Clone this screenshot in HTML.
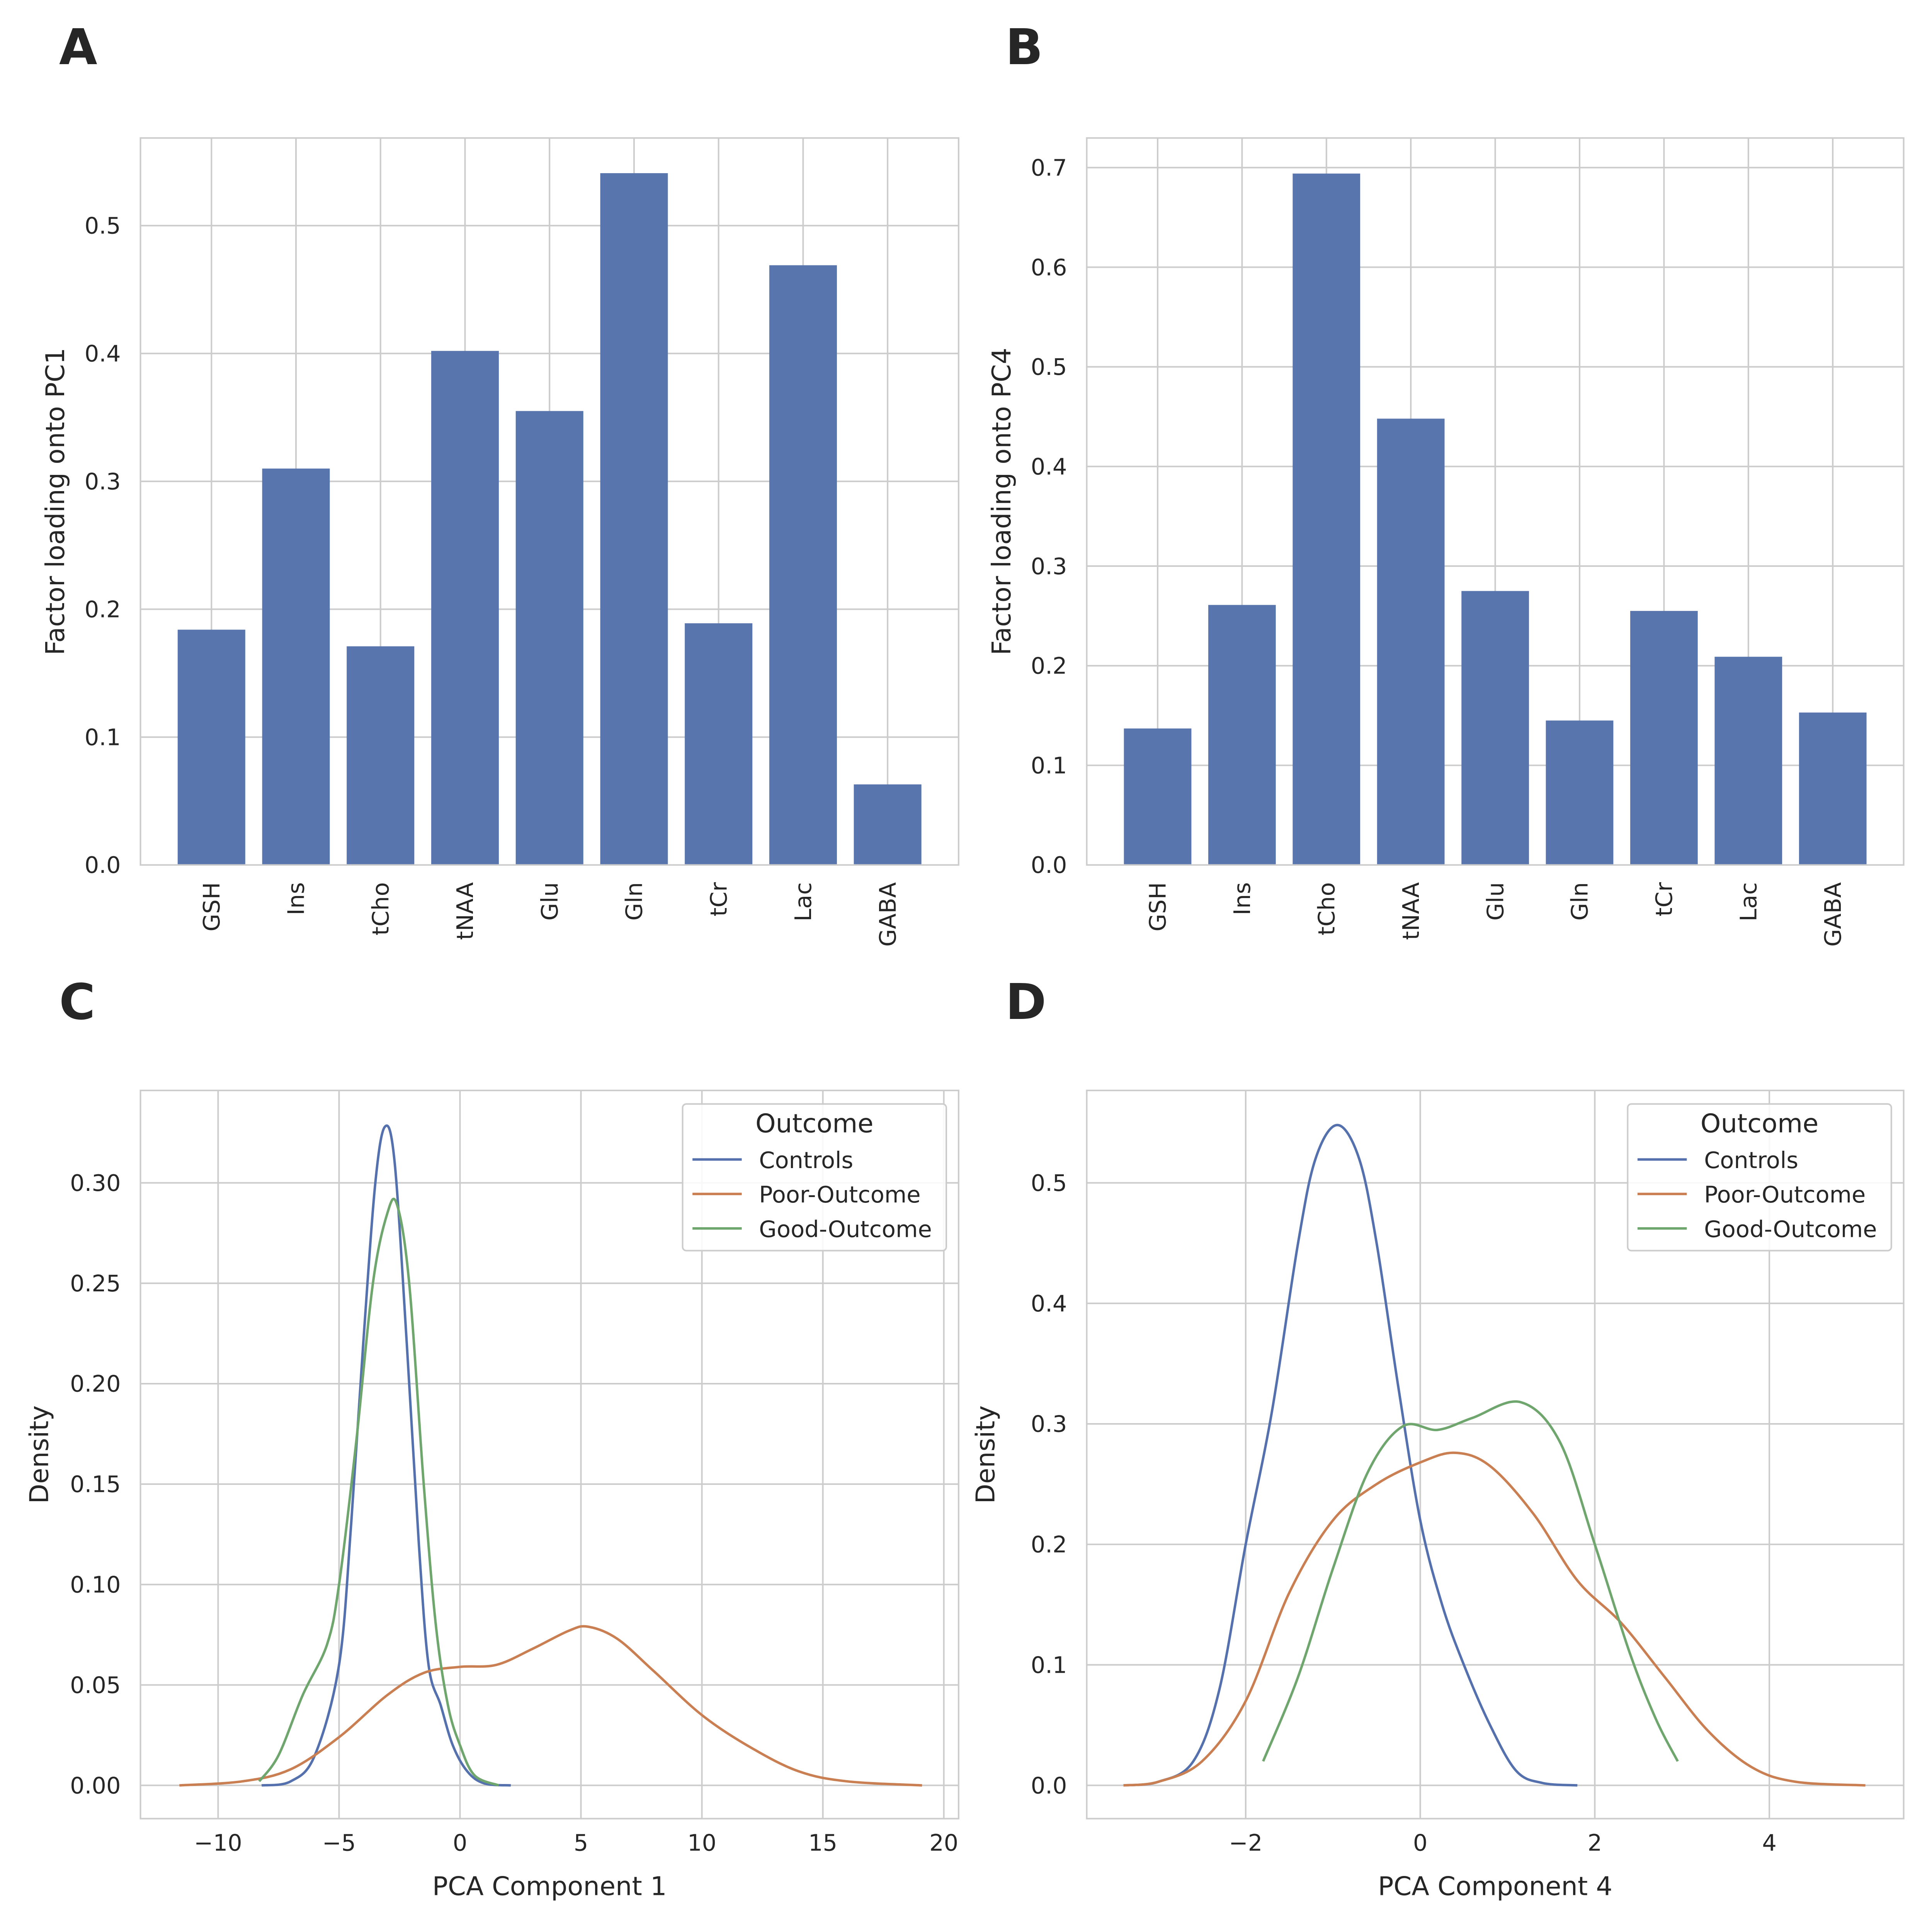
<!DOCTYPE html>
<html><head><meta charset="utf-8"><style>
html,body{margin:0;padding:0;background:#fff;width:100vw;height:100vh;overflow:hidden}
svg{display:block;width:100vw;height:100vh}
text{font-family:"DejaVu Sans","Liberation Sans",sans-serif;fill:#262626}
</style></head><body>
<svg id="fig" width="100%" height="100%" viewBox="0 0 1568 1568" preserveAspectRatio="none" xmlns="http://www.w3.org/2000/svg"></svg>
<script>
const metabolites = ["GSH","Ins","tCho","tNAA","Glu","Gln","tCr","Lac","GABA"];
const pc1Loadings = [0.184,0.310,0.171,0.402,0.355,0.541,0.189,0.469,0.063];
const pc4Loadings = [0.137,0.261,0.694,0.448,0.275,0.145,0.255,0.209,0.153];
const yTicksA = [0.0,0.1,0.2,0.3,0.4,0.5];
const yTicksB = [0.0,0.1,0.2,0.3,0.4,0.5,0.6,0.7];
const seriesNames = ["Controls","Poor-Outcome","Good-Outcome"];
const pc1ControlsX = [-8.2,-7,-6,-5,-4.5,-4,-3.5,-3.1,-2.7,-2.2,-1.7,-1.3,-0.8,-0.3,0.3,1,2.1];
const pc1ControlsY = [0,0.002,0.015,0.06,0.13,0.22,0.30,0.328,0.31,0.22,0.12,0.06,0.04,0.02,0.007,0.001,0];
const pc1GoodX = [-8.3,-7.5,-6.5,-5.5,-5,-4.3,-3.6,-3,-2.6,-2.1,-1.5,-1,-0.5,0,0.6,1.6];
const pc1GoodY = [0.002,0.015,0.045,0.07,0.10,0.17,0.25,0.285,0.289,0.25,0.15,0.08,0.04,0.02,0.005,0];
const pc1PoorX = [-11.6,-9,-7,-5,-3,-1.5,0,1.5,3,4.5,5.3,6.5,8,10,12,14,16,19.1];
const pc1PoorY = [0,0.002,0.008,0.024,0.045,0.056,0.059,0.06,0.068,0.077,0.079,0.073,0.057,0.035,0.019,0.007,0.002,0];
const pc4ControlsX = [-3.4,-3.0,-2.6,-2.3,-2.0,-1.7,-1.4,-1.2,-0.95,-0.7,-0.5,-0.25,0,0.25,0.5,0.8,1.1,1.4,1.8];
const pc4ControlsY = [0,0.003,0.02,0.08,0.2,0.31,0.45,0.52,0.548,0.52,0.45,0.33,0.22,0.15,0.1,0.05,0.012,0.002,0];
const pc4PoorX = [-3.4,-3,-2.5,-2,-1.5,-1,-0.5,0,0.4,0.8,1.3,1.8,2.3,2.8,3.3,3.8,4.3,5.1];
const pc4PoorY = [0,0.003,0.02,0.07,0.16,0.22,0.25,0.268,0.276,0.265,0.225,0.17,0.135,0.09,0.045,0.015,0.003,0];
const pc4GoodX = [-1.8,-1.4,-1,-0.6,-0.2,0.2,0.6,1.15,1.6,2,2.4,2.7,2.95];
const pc4GoodY = [0.02,0.09,0.18,0.26,0.298,0.295,0.305,0.318,0.285,0.2,0.11,0.055,0.02];
const xTicksC = [-10,-5,0,5,10,15,20];
const yTicksC = [0,0.05,0.10,0.15,0.20,0.25,0.30];
const xTicksD = [-2,0,2,4];
const yTicksD = [0,0.1,0.2,0.3,0.4,0.5];

const NS="http://www.w3.org/2000/svg";
const svg=document.getElementById('fig');
const COLORS=["#5470ad","#c97f52","#6ea66d"];
const TICK=18.5, LAB=21;
function el(tag,attrs,parent){const e=document.createElementNS(NS,tag);for(const k in attrs)e.setAttribute(k,attrs[k]);(parent||svg).appendChild(e);return e;}
function txt(s,attrs,parent){const t=el('text',attrs,parent);t.textContent=s;return t;}
function lin(d0,d1,r0,r1){return v=>r0+(v-d0)/(d1-d0)*(r1-r0);}
function fmt(v,d){return v<0?"\u2212"+Math.abs(v).toFixed(d):v.toFixed(d);}

function frame(g,L,T,R,B){
  const r=el('rect',{x:L,y:T,width:R-L,height:B-T,fill:'none',stroke:'#cccccc','stroke-width':1.25},g);
  
  
}

function barPanel(id,letter,L,R,vals,ticks,ymax,ylabel,dec){
  const T=112,B=702;
  const g=el('g',{});
  
  
  const x=lin(-0.84,8.84,L,R), y=lin(0,ymax,B,T);
  ticks.forEach(t=>{
    const ln=el('line',{x1:L,x2:R,y1:y(t),y2:y(t),stroke:'#cccccc','stroke-width':1.25},g);
    
    
    const tl=txt(fmt(t,1),{x:L-16,y:y(t)+6.5,'text-anchor':'end','font-size':TICK},g);
    
    
  });
  metabolites.forEach((m,i)=>{
    const ln=el('line',{x1:x(i),x2:x(i),y1:T,y2:B,stroke:'#cccccc','stroke-width':1.25},g);
    
    
  });
  vals.forEach((v,i)=>{
    const b=el('rect',{x:x(i-0.4),y:y(v),width:x(i+0.4)-x(i-0.4),height:B-y(v),fill:'#5975ae'},g);
    
    
  });
  metabolites.forEach((m,i)=>{
    const tl=txt(m,{x:0,y:0,'text-anchor':'end','font-size':TICK,transform:`translate(${x(i)+6.5},${B+14}) rotate(-90)`},g);
    
    
  });
  frame(g,L,T,R,B);
  const yl=txt(ylabel,{x:0,y:0,'text-anchor':'middle','font-size':LAB,transform:`translate(${L-62},${(T+B)/2}) rotate(-90)`},g);
  
  
  const pl=txt(letter,{x:L-66,y:52,'font-size':40,'font-weight':'bold'},g);
  
  
}

function smoothPath(px,py){
  let d=`M${px[0]},${py[0]}`;
  for(let i=0;i<px.length-1;i++){
    const x0=px[Math.max(0,i-1)],y0=py[Math.max(0,i-1)],x1=px[i],y1=py[i],x2=px[i+1],y2=py[i+1],x3=px[Math.min(px.length-1,i+2)],y3=py[Math.min(px.length-1,i+2)];
    d+=` C${x1+(x2-x0)/6},${y1+(y2-y0)/6} ${x2-(x3-x1)/6},${y2-(y3-y1)/6} ${x2},${y2}`;
  }
  return d;
}

function kdePanel(id,letter,L,R,xd0,xd1,xr0,xr1,yr1,xt,yt,ydec,xlabel,series){
  const T=885,B=1476;
  const g=el('g',{});
  
  
  const x=lin(xd0,xd1,xr0,xr1), y=lin(0,yr1[0],1449,yr1[1]);
  yt.forEach(t=>{
    const ln=el('line',{x1:L,x2:R,y1:y(t),y2:y(t),stroke:'#cccccc','stroke-width':1.25},g);
    
    
    const tl=txt(fmt(t,ydec),{x:L-16,y:y(t)+6.5,'text-anchor':'end','font-size':TICK},g);
    
    
  });
  xt.forEach(t=>{
    const ln=el('line',{x1:x(t),x2:x(t),y1:T,y2:B,stroke:'#cccccc','stroke-width':1.25},g);
    
    
    const tl=txt(t<0?"\u2212"+Math.abs(t):String(t),{x:x(t),y:B+26,'text-anchor':'middle','font-size':TICK},g);
    
    
  });
  series.forEach((s,k)=>{
    const p=el('path',{d:smoothPath(s[0].map(x),s[1].map(y)),fill:'none',stroke:COLORS[s[2]],'stroke-width':2},g);
    
    
  });
  frame(g,L,T,R,B);
  const xl=txt(xlabel,{x:(L+R)/2,y:1538,'text-anchor':'middle','font-size':LAB},g);
  
  
  const yl=txt('Density',{x:0,y:0,'text-anchor':'middle','font-size':LAB,transform:`translate(${L-75},${(T+B)/2}) rotate(-90)`},g);
  
  
  const pl=txt(letter,{x:L-66,y:827,'font-size':40,'font-weight':'bold'},g);
  
  
  const lg=el('g',{},g);
  
  
  const lx=R-224;
  el('rect',{x:lx,y:896,width:214,height:119,rx:3,fill:'#fff','fill-opacity':0.85,stroke:'#cccccc','stroke-width':1.25},lg);
  const lt=txt('Outcome',{x:lx+107,y:919,'text-anchor':'middle','font-size':LAB},lg);
  
  
  seriesNames.forEach((n,i)=>{
    const yy=941+i*28;
    const e=el('g',{},lg);
    
    
    el('line',{x1:lx+8,x2:lx+48,y1:yy,y2:yy,stroke:COLORS[i],'stroke-width':2},e);
    txt(n,{x:lx+62,y:yy+7,'font-size':TICK},e);
  });
}

barPanel('a','A',114,778,pc1Loadings,yTicksA,0.5685,'Factor loading onto PC1');
barPanel('b','B',882,1545,pc4Loadings,yTicksB,0.7297,'Factor loading onto PC4');
kdePanel('c','C',114,778,-10,20,177,766,[0.30,960],xTicksC,yTicksC,2,'PCA Component 1',
  [[pc1ControlsX,pc1ControlsY,0],[pc1PoorX,pc1PoorY,1],[pc1GoodX,pc1GoodY,2]]);
kdePanel('d','D',882,1545,-2,4,1011,1436,[0.5,960],xTicksD,yTicksD,1,'PCA Component 4',
  [[pc4ControlsX,pc4ControlsY,0],[pc4PoorX,pc4PoorY,1],[pc4GoodX,pc4GoodY,2]]);
</script>
</body></html>
